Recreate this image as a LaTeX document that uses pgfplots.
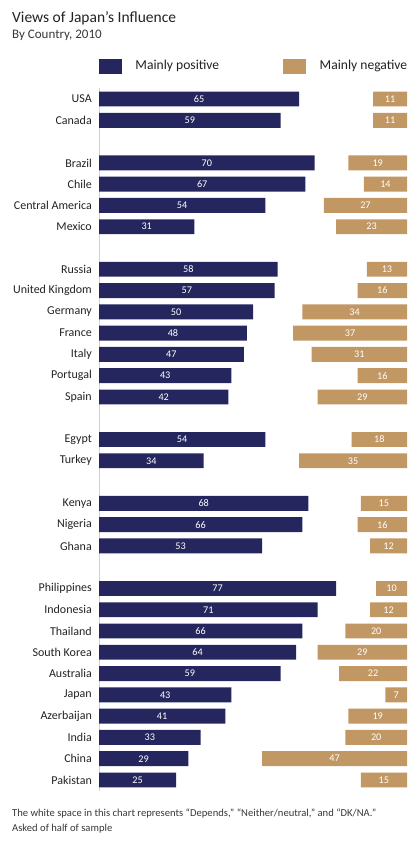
\documentclass[border=0pt]{standalone}
\usepackage{fontspec}
\setmainfont{Carlito}
\usepackage{pgfplots}
\usepackage{pgfplotstable}
\pgfplotsset{compat=1.18}
\definecolor{navy}{HTML}{25265E}
\definecolor{tanc}{HTML}{C19763}
\definecolor{txt}{HTML}{222222}

\pgfplotstableread{
row pos neg name
0 65 11 USA
1 59 11 Canada
3 70 19 Brazil
4 67 14 Chile
5 54 27 {Central America}
6 31 23 Mexico
8 58 13 Russia
9 57 16 {United Kingdom}
10 50 34 Germany
11 48 37 France
12 47 31 Italy
13 43 16 Portugal
14 42 29 Spain
16 54 18 Egypt
17 34 35 Turkey
19 68 15 Kenya
20 66 16 Nigeria
21 53 12 Ghana
23 77 10 Philippines
24 71 12 Indonesia
25 66 20 Thailand
26 64 29 {South Korea}
27 59 22 Australia
28 43 7 Japan
29 41 19 Azerbaijan
30 33 20 India
31 29 47 China
32 25 15 Pakistan
}\data

\pgfplotsset{
  common/.style={
    at={(99pt,-88.4pt)}, anchor=north west,
    scale only axis, width=308pt, height=702.2pt,
    xmin=0, xmax=100, ymin=-0.5, ymax=32.5, y dir=reverse,
    enlargelimits=false, clip=false,
    /pgf/number format/assume math mode=true,
  },
  vallabel/.style={draw=none, mark=none, forget plot, nodes near coords, point meta=explicit,
    nodes near coords style={anchor=center, text=white, font=\fontsize{10.2}{11}\selectfont, inner sep=0pt}},
}

\begin{document}
\begin{tikzpicture}
\useasboundingbox (0,0) rectangle (418pt,-843pt);
\node[anchor=base west, font=\fontsize{15.5}{17}\selectfont, text=txt, inner sep=0pt] at (12pt,-22.5pt) {Views of Japan’s Influence};
\node[anchor=base west, font=\fontsize{13}{15}\selectfont, text=txt!90, inner sep=0pt] at (12pt,-38.5pt) {By Country, 2010};

\begin{axis}[common,
  hide x axis, axis y line*=left,
  y axis line style={draw=black!18, line width=0.8pt},
  ytick={0,1,3,4,5,6,8,9,10,11,12,13,14,16,17,19,20,21,23,24,25,26,27,28,29,30,31,32},
  yticklabels from table={\data}{name},
  major tick length=0pt,
  yticklabel style={font=\fontsize{12}{14}\selectfont, text=txt, inner sep=0pt, xshift=-7pt},
  legend columns=2,
  legend style={at={(axis description cs:0,1)}, anchor=north west, yshift=29.4pt,
    draw=none, fill=none, inner sep=0pt, outer sep=0pt,
    font=\fontsize{13.6}{15}\selectfont, text=txt,
    nodes={inner sep=0pt, text depth=0pt}, cells={anchor=base west},
    /tikz/every odd column/.append style={column sep=14pt},
    /tikz/every even column/.append style={column sep=64pt}},
]
\addlegendimage{legend image code/.code={\fill[navy] (0pt,-3.3pt) rectangle (22pt,10.7pt);}}
\addlegendentry{Mainly positive}
\addlegendimage{legend image code/.code={\fill[tanc] (0pt,-3.3pt) rectangle (22pt,10.7pt);}}
\addlegendentry{Mainly negative}
\addplot[xbar, bar width=0.7, bar shift=0pt, fill=navy, draw=none, forget plot] table[x=pos, y=row] {\data};
\addplot[vallabel] table[x expr=\thisrow{pos}/2, y=row, meta=pos] {\data};
\end{axis}

\begin{axis}[common, x dir=reverse, hide axis]
\addplot[xbar, bar width=0.7, bar shift=0pt, fill=tanc, draw=none, forget plot] table[x=neg, y=row] {\data};
\addplot[vallabel] table[x expr=\thisrow{neg}/2, y=row, meta=neg] {\data};
\end{axis}

\node[anchor=base west, font=\fontsize{10.6}{12}\selectfont, text=txt!90, inner sep=0pt] at (12pt,-816.7pt) {The white space in this chart represents “Depends,” “Neither/neutral,” and “DK/NA.”};
\node[anchor=base west, font=\fontsize{10.6}{12}\selectfont, text=txt!90, inner sep=0pt] at (12pt,-831pt) {Asked of half of sample};
\end{tikzpicture}
\end{document}
